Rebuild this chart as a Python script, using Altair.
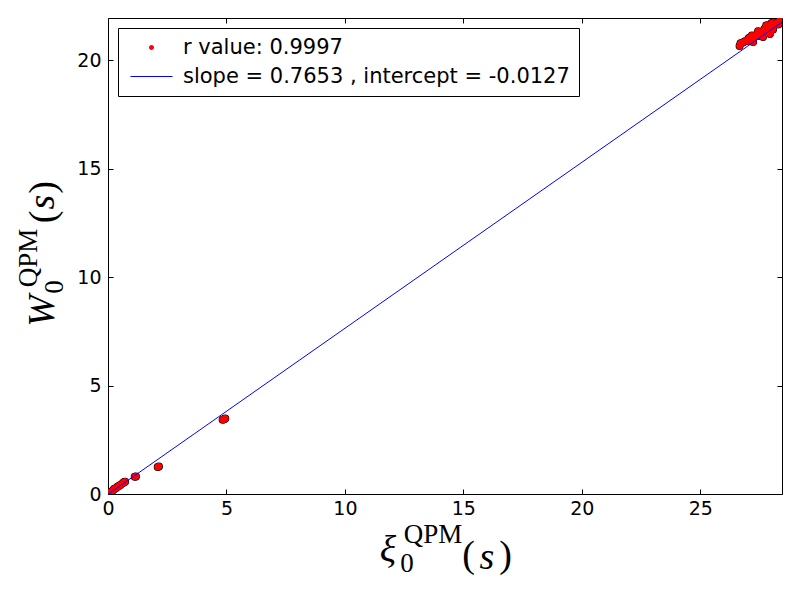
import altair as alt
import pandas as pd

# ---- data -------------------------------------------------------------
x_vals = [0.02, 0.06, 0.11, 0.16, 0.22, 0.27, 0.33, 0.40, 0.46, 0.52, 0.62, 0.68, 0.72,
          1.13, 1.18, 2.10, 2.15, 4.84, 4.90, 4.95,
          26.66, 26.70, 26.80, 26.89, 27.02, 27.04, 27.14, 27.18, 27.23, 27.31, 27.38,
          27.44, 27.52, 27.59, 27.65, 27.71, 27.78, 27.82, 27.90, 27.94, 28.01, 28.07,
          28.16, 28.24, 28.30, 28.37, 28.41, 27.10, 27.47, 27.85]
y_vals = [0.01, 0.04, 0.09, 0.12, 0.19, 0.24, 0.27, 0.33, 0.37, 0.42, 0.50, 0.55, 0.57,
          0.79, 0.81, 1.25, 1.27, 3.42, 3.45, 3.48,
          20.66, 20.78, 20.82, 20.88, 20.90, 21.02, 20.96, 21.14, 20.84, 21.08, 21.18,
          21.34, 21.12, 21.32, 21.07, 21.44, 21.60, 21.26, 21.52, 21.21, 21.72, 21.42,
          21.65, 21.74, 21.65, 21.86, 21.90, 21.05, 21.20, 21.62]

slope = 0.7653
intercept = -0.0127
r_value = 0.9997
fit_x = [0.0, 28.45]

label_pts = f"r value: {r_value}"
label_fit = f"slope = {slope} , intercept = {intercept}"

x_ticks = [0, 5, 10, 15, 20, 25]
y_ticks = [0, 5, 10, 15, 20]
x_domain = [0, 28.45]
y_domain = [0, 21.95]

pts = pd.DataFrame({"x": x_vals, "y": y_vals, "series": label_pts})
fit = pd.DataFrame({"x": fit_x, "y": [slope * v + intercept for v in fit_x]})

W, H = 674, 476
FONT = "DejaVu Sans"
SERIF = "Liberation Serif"

xs = alt.Scale(domain=x_domain, nice=False, zero=False)
ys = alt.Scale(domain=y_domain, nice=False, zero=False)

axis_common = dict(domain=False, grid=False, tickColor="black", tickSize=5, tickWidth=1,
                   labelFont=FONT, labelFontSize=19, labelColor="black", title=None, offset=-5)

x_bottom = alt.Axis(orient="bottom", values=x_ticks, labelPadding=5, labelFlush=False, **axis_common)
y_left = alt.Axis(orient="left", values=y_ticks, labelPadding=7, labelFlush=False, **axis_common)
x_top = alt.Axis(orient="top", values=x_ticks, labels=False, **axis_common)
y_right = alt.Axis(orient="right", values=y_ticks, labels=False, **axis_common)

# legend / marker symbols (unit = sqrt(size)/2 px)
circle_path = "M0.357,0A0.357,0.357,0,1,1,-0.357,0A0.357,0.357,0,1,1,0.357,0Z"
line_path = "M-3,-0.075H3V0.075H-3Z"

outline = alt.Chart(pts).mark_circle(color="black", size=64, opacity=1, clip=True).encode(
    x=alt.X("x:Q", scale=xs, axis=x_bottom),
    y=alt.Y("y:Q", scale=ys, axis=y_left),
)

legend = alt.Legend(title=None, orient="none", legendX=10, legendY=10)
red = alt.Chart(pts).mark_point(filled=True, size=384, opacity=1, strokeWidth=0, clip=True).encode(
    x=alt.X("x:Q", scale=xs, axis=x_top),
    y=alt.Y("y:Q", scale=ys, axis=y_right),
    color=alt.Color("series:N", scale=alt.Scale(domain=[label_pts, label_fit], range=["#ff0000", "#0000ff"]),
                    legend=legend),
    shape=alt.Shape("series:N", scale=alt.Scale(domain=[label_pts, label_fit], range=[circle_path, line_path]),
                    legend=legend),
)

line = alt.Chart(fit).mark_line(color="#0000ff", strokeWidth=1, clip=True).encode(
    x=alt.X("x:Q", scale=xs, axis=None),
    y=alt.Y("y:Q", scale=ys, axis=None),
)

one = pd.DataFrame({"a": [0]})


def txt(s, x, y, size, italic=False, angle=0):
    kw = dict(text=s, font=SERIF, fontSize=size, color="black", align="center", baseline="middle")
    if italic:
        kw["fontStyle"] = "italic"
    if angle:
        kw["angle"] = angle
    return alt.Chart(one).mark_text(**kw).encode(x=alt.value(x), y=alt.value(y))


title_parts = [
    # x axis title: xi_0^QPM (s)
    txt("ξ", 280, 532.5, 38, italic=True),
    txt("0", 299, 545.5, 27),
    txt("QPM", 325, 517, 27),
    txt("(", 360.5, 538, 38),
    txt("s", 379, 540, 38, italic=True),
    txt(")", 397.5, 538, 38),
    # y axis title: W_0^QPM (s)
    txt("W", -65.4, 293, 38, italic=True, angle=270),
    txt("0", -53, 269, 27, angle=270),
    txt("QPM", -79.5, 240, 27, angle=270),
    txt("(", -64, 199, 38, angle=270),
    txt("s", -64.7, 184, 38, italic=True, angle=270),
    txt(")", -64, 169.5, 38, angle=270),
]

chart = alt.layer(outline, red, line, *title_parts).resolve_axis(
    x="independent", y="independent"
).properties(
    width=W, height=H,
    autosize=alt.AutoSizeParams(type="none"),
    padding={"left": 100, "top": 10, "right": 10, "bottom": 90},
    background="white",
).configure_view(
    stroke="black", strokeWidth=1, fill="white"
).configure_legend(
    strokeColor="black", strokeWidth=1, fillColor="white", padding=9, cornerRadius=0,
    labelFont=FONT, labelFontSize=21, labelColor="black", labelLimit=0, labelOffset=21,
    symbolOffset=14, symbolSize=196, symbolStrokeWidth=0, symbolOpacity=1, rowPadding=7,
)

chart.save("out.html", embed_options={"renderer": "svg", "actions": False})
